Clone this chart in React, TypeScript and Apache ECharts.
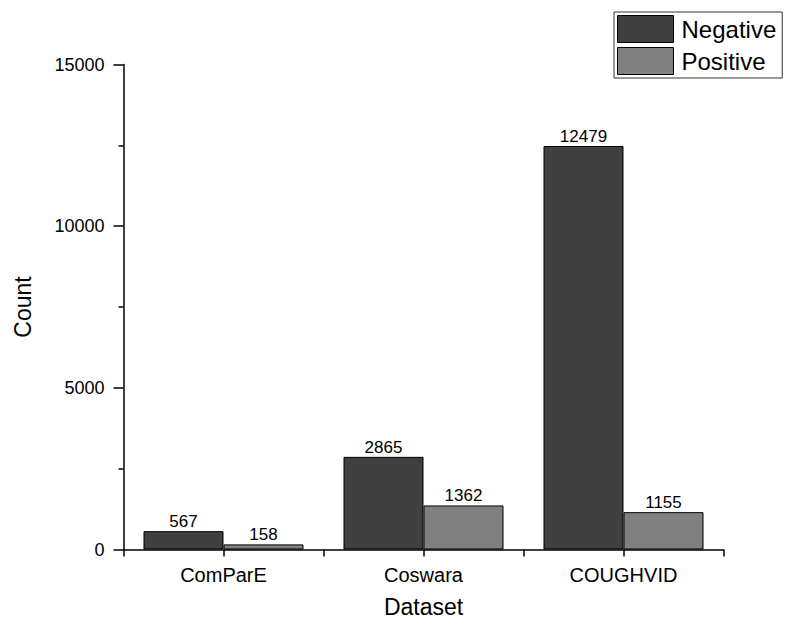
import React, { useEffect, useRef } from "react";
import * as echarts from "echarts";

const categories = ["ComParE", "Coswara", "COUGHVID"];
const negative = [567, 2865, 12479];
const positive = [158, 1362, 1155];
const yTicks = { min: 0, max: 15000, interval: 5000 };

export default function App() {
  const ref = useRef<HTMLDivElement>(null);
  useEffect(() => {
    const chart = echarts.init(ref.current!, null, { renderer: "svg" });
    const font = "Liberation Sans, Arial, sans-serif";
    const labelStyle = { show: true, position: "top" as const, color: "#000", fontSize: 17, fontFamily: font, distance: 1 };
    chart.setOption({
      animation: false,
      backgroundColor: "#fff",
      textStyle: { fontFamily: font },
      grid: { left: 123.5, top: 64.5, width: 600, height: 485, containLabel: false },
      legend: {
        orient: "vertical",
        left: 614,
        top: 12,
        icon: "rect",
        itemWidth: 56,
        itemHeight: 27,
        itemGap: 4,
        padding: [3, 6, 3, 3],
        borderColor: "#333",
        borderWidth: 1,
        borderRadius: 0,
        itemStyle: { borderColor: "#000", borderWidth: 1 },
        textStyle: { fontSize: 24, color: "#000", fontFamily: font, padding: [0, 0, 0, 3] },
        data: ["Negative", "Positive"],
      },
      xAxis: [
        {
          type: "category",
          data: categories,
          name: "Dataset",
          nameLocation: "middle",
          nameGap: 46,
          nameTextStyle: { fontSize: 23, color: "#000", fontFamily: font },
          axisLine: { lineStyle: { color: "#000", width: 1.5 } },
          axisTick: { show: false },
          axisLabel: { color: "#000", fontSize: 20, margin: 15, fontFamily: font },
        },
        {
          type: "category",
          data: ["", "", "", "", "", ""],
          position: "bottom",
          axisLine: { show: false },
          axisTick: { show: true, length: 7, lineStyle: { color: "#000", width: 1.5 } },
          axisLabel: { show: false },
        },
      ],
      yAxis: {
        type: "value",
        min: yTicks.min,
        max: yTicks.max,
        interval: yTicks.interval,
        name: "Count",
        nameLocation: "middle",
        nameGap: 89,
        nameTextStyle: { fontSize: 23, color: "#000", fontFamily: font },
        axisLine: { show: true, lineStyle: { color: "#000", width: 1.5 } },
        axisTick: { show: true, length: 10, lineStyle: { color: "#000", width: 1.5 } },
        minorTick: { show: true, splitNumber: 2, length: 5, lineStyle: { color: "#000", width: 1.5 } },
        splitLine: { show: false },
        axisLabel: { color: "#000", fontSize: 18, margin: 19, fontFamily: font, formatter: (v: number) => String(v) },
      },
      series: [
        {
          name: "Negative",
          type: "bar",
          xAxisIndex: 0,
          data: negative,
          barGap: "0%",
          barCategoryGap: "20%",
          itemStyle: { color: "#404040", borderColor: "#000", borderWidth: 1 },
          label: labelStyle,
        },
        {
          name: "Positive",
          type: "bar",
          xAxisIndex: 0,
          data: positive,
          barGap: "0%",
          barCategoryGap: "20%",
          itemStyle: { color: "#808080", borderColor: "#000", borderWidth: 1 },
          label: labelStyle,
        },
      ],
    });
    return () => chart.dispose();
  }, []);
  return <div ref={ref} style={{ width: 785, height: 628, position: "absolute", left: 0, top: 0 }} />;
}
